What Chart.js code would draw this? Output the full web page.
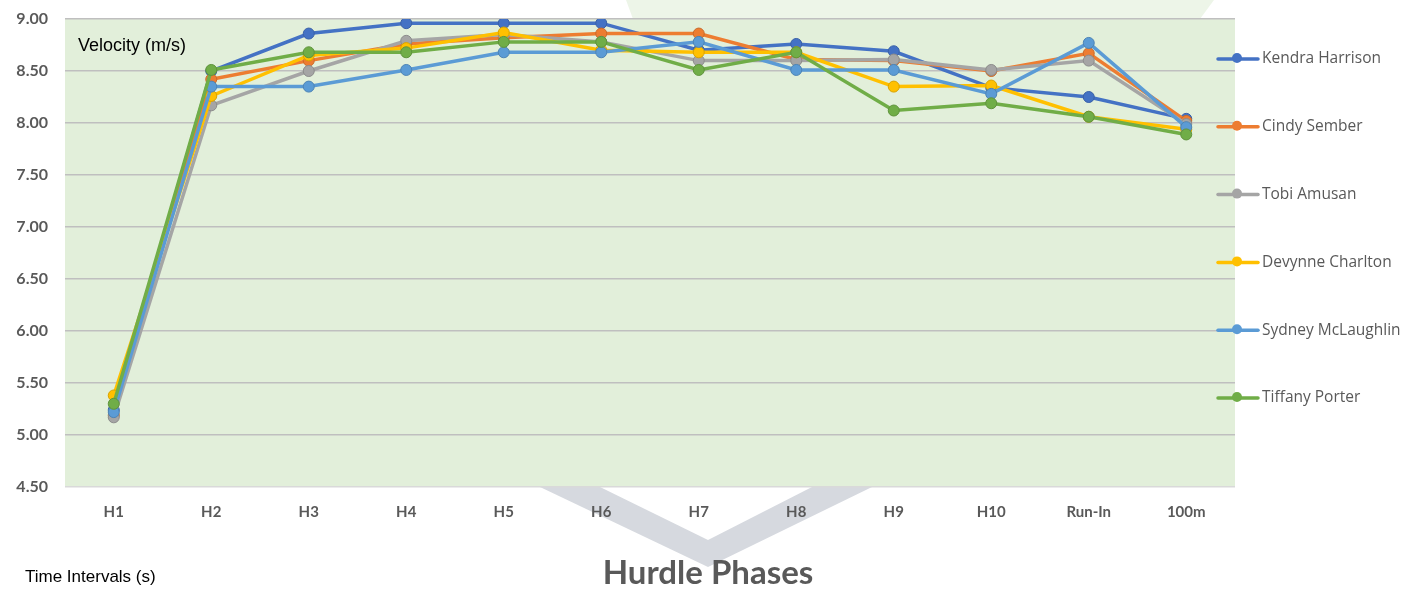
<!DOCTYPE html>
<html><head><meta charset="utf-8">
<script src="https://cdn.jsdelivr.net/npm/chart.js@4.4.1/dist/chart.umd.min.js"></script>
<style>html,body{margin:0;padding:0;background:#fff;overflow:hidden}</style>
</head><body>
<canvas id="c" width="1424" height="593"></canvas>
<script>
const categories = ['H1','H2','H3','H4','H5','H6','H7','H8','H9','H10','Run-In','100m'];
const yTicks = [4.5, 5.0, 5.5, 6.0, 6.5, 7.0, 7.5, 8.0, 8.5, 9.0];
const seriesNames = ['Kendra Harrison','Cindy Sember','Tobi Amusan','Devynne Charlton','Sydney McLaughlin','Tiffany Porter'];
const kendraHarrison   = [5.24, 8.50, 8.86, 8.96, 8.96, 8.96, 8.70, 8.76, 8.69, 8.34, 8.25, 8.04];
const cindySember      = [5.19, 8.42, 8.60, 8.76, 8.82, 8.86, 8.86, 8.61, 8.60, 8.50, 8.67, 8.02];
const tobiAmusan       = [5.17, 8.17, 8.50, 8.79, 8.85, 8.78, 8.60, 8.60, 8.61, 8.51, 8.60, 7.99];
const devynneCharlton  = [5.38, 8.26, 8.65, 8.72, 8.87, 8.70, 8.68, 8.68, 8.35, 8.36, 8.06, 7.94];
const sydneyMcLaughlin = [5.22, 8.35, 8.35, 8.51, 8.68, 8.68, 8.78, 8.51, 8.51, 8.28, 8.77, 7.96];
const tiffanyPorter    = [5.30, 8.51, 8.68, 8.68, 8.78, 8.78, 8.51, 8.68, 8.12, 8.19, 8.06, 7.89];
const seriesValues = [kendraHarrison, cindySember, tobiAmusan, devynneCharlton, sydneyMcLaughlin, tiffanyPorter];
const colors = ['#4472C4','#ED7D31','#A5A5A5','#FFC000','#5B9BD5','#70AD47'];
const pointBorders = ['#3a61a8','#c96a2a','#8c8c8c','#d9a300','#4d84b5','#5f933c'];

const decor = {
  id: 'decor',
  beforeDraw(chart) {
    const ctx = chart.ctx, a = chart.chartArea;
    ctx.save();
    // faint watermark above plot
    ctx.fillStyle = '#EDF5E8';
    ctx.beginPath();
    ctx.moveTo(626, 0); ctx.lineTo(1214, 0); ctx.lineTo(1200, a.top); ctx.lineTo(633, a.top); ctx.closePath();
    ctx.fill();
    // chevron watermark below plot
    ctx.fillStyle = '#D6D9DF';
    ctx.beginPath();
    ctx.moveTo(540, a.bottom); ctx.lineTo(708, 567); ctx.lineTo(872, a.bottom); ctx.closePath();
    ctx.fill();
    ctx.fillStyle = '#FFFFFF';
    ctx.beginPath();
    ctx.moveTo(600, a.bottom); ctx.lineTo(708, 540); ctx.lineTo(812, a.bottom); ctx.closePath();
    ctx.fill();
    // plot background
    ctx.fillStyle = '#E2EFDA';
    ctx.fillRect(a.left, a.top, a.right - a.left, a.bottom - a.top);
    ctx.restore();
  },
  afterDraw(chart) {
    const ctx = chart.ctx, a = chart.chartArea;
    ctx.save();
    ctx.textBaseline = 'middle';
    ctx.fillStyle = '#000';
    ctx.font = '18px "Liberation Sans", Arial, sans-serif';
    ctx.textAlign = 'left';
    ctx.fillText('Velocity (m/s)', 78, 46);
    ctx.font = '17px "Liberation Sans", Arial, sans-serif';
    ctx.fillText('Time Intervals (s)', 25, 577);
    ctx.fillStyle = '#595959';
    ctx.font = 'bold 33px Lato, "Open Sans", sans-serif';
    ctx.textAlign = 'center';
    ctx.fillText('Hurdle Phases', 708, 573);
    // legend
    ctx.textAlign = 'left';
    ctx.font = '15.5px "Open Sans", sans-serif';
    chart.data.datasets.forEach((ds, i) => {
      const y = 59 + i * 67.8;
      ctx.strokeStyle = ds.borderColor; ctx.lineWidth = 3.5; ctx.lineCap = 'round';
      ctx.beginPath(); ctx.moveTo(1218, y); ctx.lineTo(1258, y); ctx.stroke();
      ctx.fillStyle = ds.borderColor;
      ctx.beginPath(); ctx.arc(1237, y - 1, 5, 0, Math.PI * 2); ctx.fill();
      ctx.fillStyle = '#595959';
      ctx.fillText(ds.label, 1262, y);
    });
    ctx.restore();
  }
};

new Chart(document.getElementById('c'), {
  type: 'line',
  data: {
    labels: categories,
    datasets: seriesValues.map((vals, i) => ({
      label: seriesNames[i],
      data: vals,
      borderColor: colors[i],
      backgroundColor: colors[i],
      pointBackgroundColor: colors[i],
      pointBorderColor: pointBorders[i],
      pointBorderWidth: 1,
      pointRadius: 5.5,
      borderWidth: 3.5,
      tension: 0,
      order: seriesValues.length - i
    }))
  },
  options: {
    responsive: false,
    devicePixelRatio: 1,
    animation: false,
    layout: { padding: { top: 19, right: 189, left: 0, bottom: 0 } },
    plugins: { legend: { display: false }, tooltip: { enabled: false }, title: { display: false } },
    scales: {
      x: {
        offset: true,
        grid: { display: false, offset: true },
        border: { display: false },
        ticks: { color: '#595959', font: { family: 'Lato, "Open Sans", sans-serif', weight: 'bold', size: 15 }, padding: 8, maxRotation: 0, autoSkip: false },
        afterFit(s) { s.height = 106; }
      },
      y: {
        min: 4.5, max: 9,
        afterBuildTicks(s) { s.ticks = yTicks.map(v => ({ value: v })); },
        grid: {
          color: c => (c.tick && c.tick.value === 4.5) ? '#D9D9D9' : '#BFBFBF',
          lineWidth: 1.6,
          drawTicks: true,
          tickLength: 17,
          tickColor: 'rgba(0,0,0,0)'
        },
        border: { display: false },
        ticks: {
          color: '#595959',
          font: { family: 'Lato, "Open Sans", sans-serif', weight: 'bold', size: 16 },
          padding: 0,
          callback: v => Number(v).toFixed(2)
        },
        afterFit(s) { s.width = 65; }
      }
    }
  },
  plugins: [decor]
});
</script>
</body></html>
